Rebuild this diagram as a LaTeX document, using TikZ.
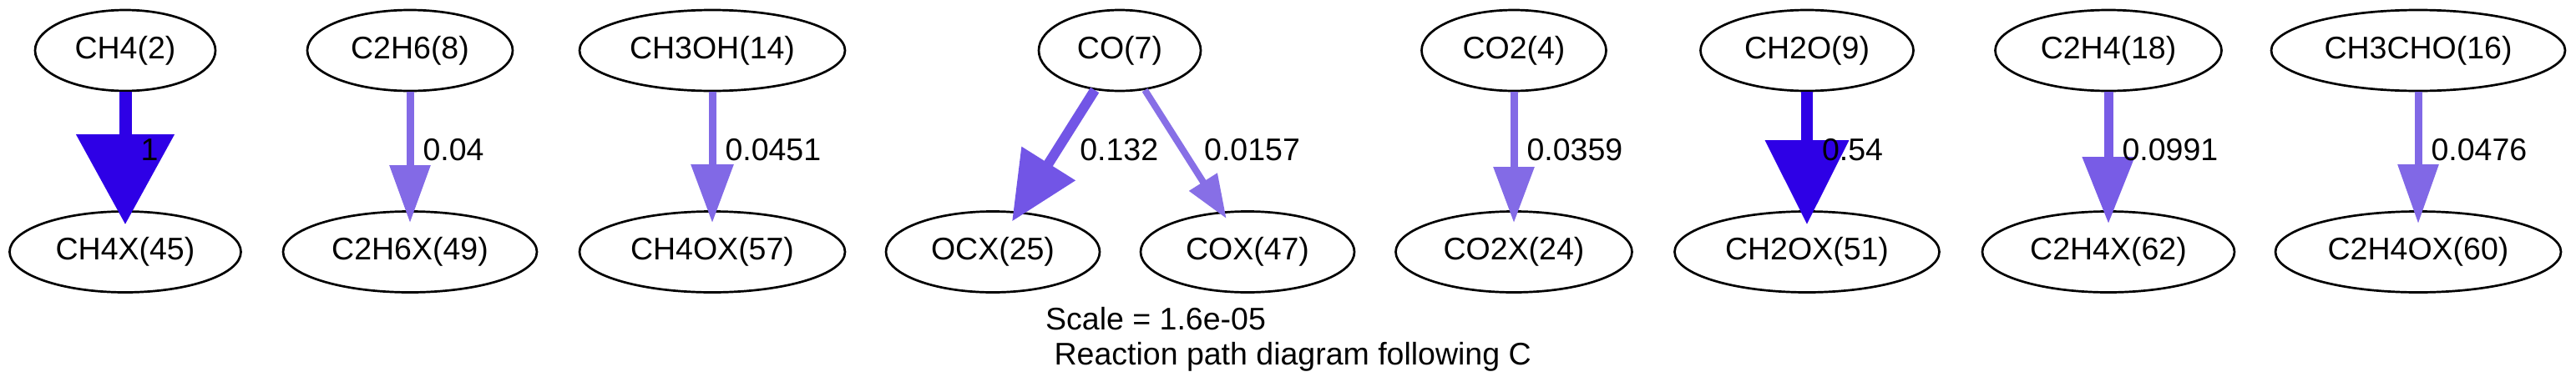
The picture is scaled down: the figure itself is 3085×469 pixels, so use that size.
\documentclass[tikz,border=0pt]{standalone}
\usepackage{fontspec}
\setmainfont{Liberation Sans}
\usetikzlibrary{
    shapes.geometric,
    arrows.meta,
    positioning
}

\definecolor{fluxmax}{RGB}{46,0,230}
\definecolor{fluxocx}{RGB}{114,85,230}
\definecolor{fluxcox}{RGB}{135,111,230}
\definecolor{fluxcthree}{RGB}{120,92,230}
\definecolor{fluxcxxa}{RGB}{131,106,230}
\definecolor{fluxcxxb}{RGB}{129,105,230}
\definecolor{fluxcxxc}{RGB}{131,107,230}
\definecolor{fluxcxxd}{RGB}{129,104,230}

\begin{document}
\begin{tikzpicture}[
    x=1pt, y=-1pt,
    node distance=241.5pt,
    font=\fontsize{37.5}{42}\selectfont,
    species/.style={ellipse, draw=black, line width=2.7pt, minimum height=97pt, inner sep=0pt},
    flux/.style={anchor=base west, inner sep=0pt, pos=0.5, xshift=11pt, yshift=-11.5pt, text=black},
    rxn/.style n args={4}{color=#1, line width=#2, shorten >=-15pt,
                          -{Triangle[length=#3, width=#4]}}
]
    \useasboundingbox (0,0) rectangle (3085,469);

    % Gas species
    \node (ch4) [species, minimum width=216pt] at (150,60.5) {CH4(2)};
    \node (c2h6) [species, minimum width=246pt] at (491,60.5) {C2H6(8)};
    \node (ch3oh) [species, minimum width=318pt] at (853,60.5) {CH3OH(14)};
    \node (co) [species, minimum width=194pt] at (1341,60.5) {CO(7)};
    \node (co2) [species, minimum width=221pt] at (1813,60.5) {CO2(4)};
    \node (ch2o) [species, minimum width=255pt] at (2164,60.5) {CH2O(9)};
    \node (c2h4) [species, minimum width=271pt] at (2525,60.5) {C2H4(18)};
    \node (ch3cho) [species, minimum width=352pt] at (2896,60.5) {CH3CHO(16)};

    % Adsorbed species
    \node (ch4x) [species, minimum width=277pt, below of=ch4] {CH4X(45)};
    \node (c2h6x) [species, minimum width=304pt, below of=c2h6] {C2H6X(49)};
    \node (ch4ox) [species, minimum width=318pt, below of=ch3oh] {CH4OX(57)};
    \node (ocx) [species, minimum width=256pt, below of=co, xshift=-152pt] {OCX(25)};
    \node (cox) [species, minimum width=256pt, below of=co, xshift=153pt] {COX(47)};
    \node (co2x) [species, minimum width=283pt, below of=co2] {CO2X(24)};
    \node (ch2ox) [species, minimum width=317pt, below of=ch2o] {CH2OX(51)};
    \node (c2h4x) [species, minimum width=302pt, below of=c2h4] {C2H4X(62)};
    \node (c2h4ox) [species, minimum width=342pt, below of=ch3cho] {C2H4OX(60)};

    % Fluxes
    \draw [rxn={fluxmax}{15pt}{108pt}{114pt}, shorten >=-17pt] (ch4) -- node[flux] {1} (ch4x);
    \draw [rxn={fluxcxxa}{9pt}{69pt}{47pt}] (c2h6) -- node[flux] {0.04} (c2h6x);
    \draw [rxn={fluxcxxb}{9pt}{70pt}{49pt}] (ch3oh) -- node[flux] {0.0451} (ch4ox);
    \draw [rxn={fluxocx}{12pt}{82pt}{73pt}, shorten >=-14pt] (co) -- node[flux, xshift=11pt] {0.132} (ocx);
    \draw [rxn={fluxcox}{8pt}{52pt}{38pt}, shorten >=-10pt] (co) -- node[flux, xshift=10pt] {0.0157} (cox);
    \draw [rxn={fluxcxxc}{9pt}{67pt}{47pt}] (co2) -- node[flux] {0.0359} (co2x);
    \draw [rxn={fluxmax}{14pt}{101pt}{97pt}, shorten >=-17pt] (ch2o) -- node[flux] {0.54} (ch2ox);
    \draw [rxn={fluxcthree}{11pt}{80pt}{60pt}, shorten >=-16pt] (c2h4) -- node[flux] {0.0991} (c2h4x);
    \draw [rxn={fluxcxxd}{9pt}{71pt}{47pt}, shorten >=-16pt] (ch3cho) -- node[flux] {0.0476} (c2h4ox);

    % Caption
    \node (caption) [anchor=north west, align=left, inner sep=0pt] at (1252,368)
        {Scale = 1.6e-05\\\hspace*{0.278em}Reaction path diagram following C};

\end{tikzpicture}
\end{document}
